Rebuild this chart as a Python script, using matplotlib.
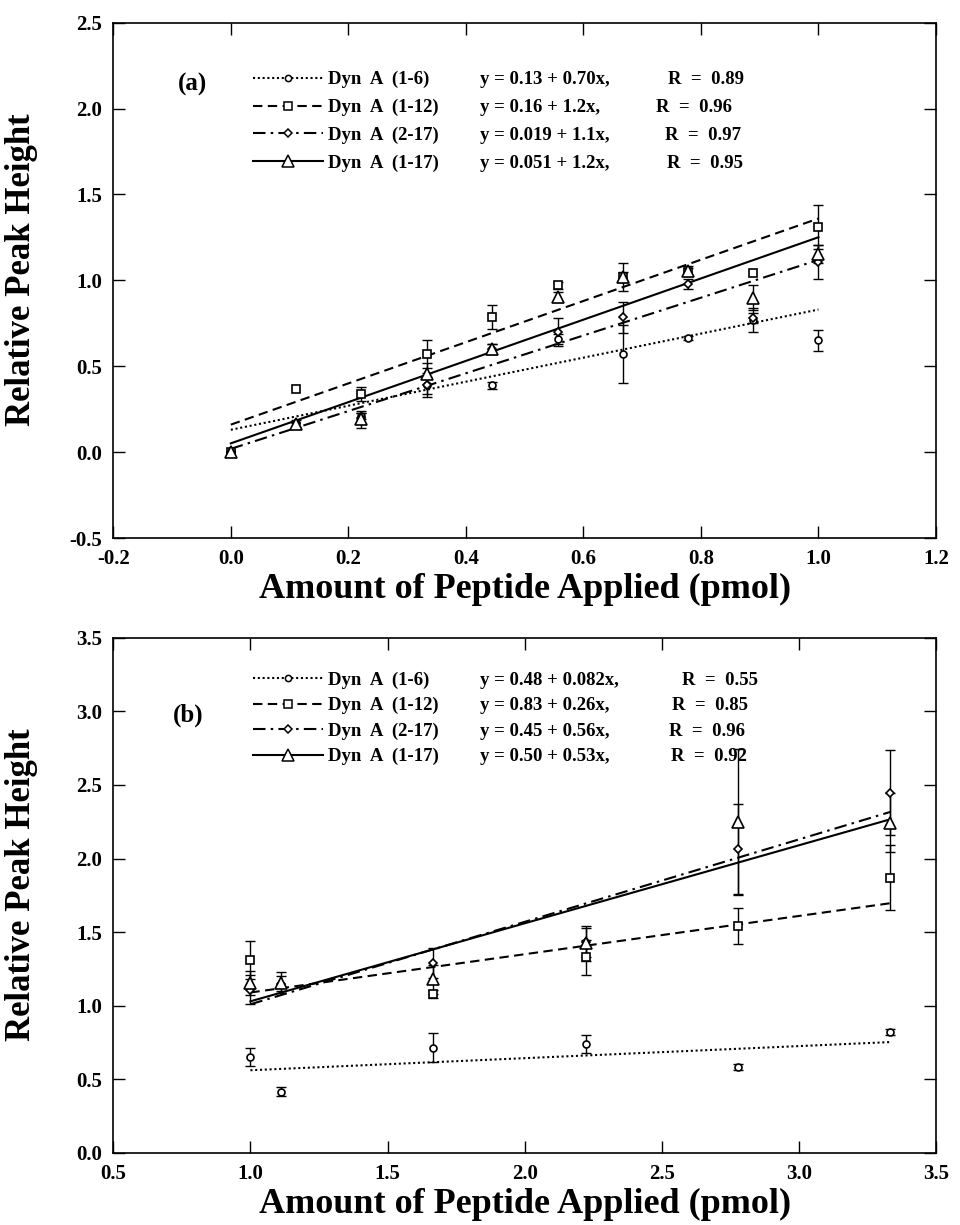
import numpy as np
import matplotlib
matplotlib.use("Agg")
import matplotlib.pyplot as plt
from matplotlib.lines import Line2D

plt.rcParams['font.family'] = ['Liberation Serif', 'DejaVu Serif']
plt.rcParams['font.weight'] = 'bold'

# ---------------- data ----------------
series_names = ["Dyn  A  (1-6)", "Dyn  A  (1-12)", "Dyn  A  (2-17)", "Dyn  A  (1-17)"]

# panel (a)
xa = [0.0, 0.111, 0.222, 0.333, 0.444, 0.556, 0.667, 0.778, 0.889, 1.0]
a_16 = [0.0, 0.17, 0.21, 0.39, 0.39, 0.66, 0.57, 0.665, 0.77, 0.65]
a_16_err = [0, 0, 0.02, 0.07, 0.02, 0.03, 0.17, 0.01, 0.07, 0.06]
a_112 = [0.0, 0.37, 0.34, 0.57, 0.785, 0.97, 1.02, 1.05, 1.04, 1.31]
a_112_err = [0, 0, 0.04, 0.08, 0.07, 0.02, 0.03, 0.02, 0, 0.13]
a_217 = [0.0, 0.17, 0.20, 0.39, 0.60, 0.70, 0.785, 0.98, 0.78, 1.105]
a_217_err = [0, 0, 0.03, 0.05, 0.03, 0.08, 0.09, 0.03, 0.03, 0.10]
a_117 = [0.0, 0.165, 0.19, 0.456, 0.60, 0.905, 1.02, 1.056, 0.90, 1.153]
a_117_err = [0, 0.02, 0.05, 0.06, 0.03, 0.03, 0.08, 0.03, 0.07, 0.05]
a_intercepts = [0.13, 0.16, 0.019, 0.051]
a_slopes = [0.70, 1.2, 1.1, 1.2]
a_eq = ["y = 0.13 + 0.70x,", "y = 0.16 + 1.2x,", "y = 0.019 + 1.1x,", "y = 0.051 + 1.2x,"]
a_R = ["R  =  0.89", "R  =  0.96", "R  =  0.97", "R  =  0.95"]
a_fit_range = [0.0, 1.0]

# panel (b)
xb = [1.0, 1.11, 1.667, 2.222, 2.778, 3.333]
b_16 = [0.654, 0.417, 0.715, 0.74, 0.586, 0.824]
b_16_err = [0.06, 0.03, 0.10, 0.06, 0.02, 0.02]
b_112 = [1.311, np.nan, 1.08, 1.33, 1.542, 1.87]
b_112_err = [0.13, 0, 0.03, 0.12, 0.12, 0.22]
b_217 = [1.11, 1.15, 1.289, 1.43, 2.063, 2.448]
b_217_err = [0.10, 0.05, 0.10, 0.10, 0.31, 0.29]
b_117 = [1.153, 1.157, 1.18, 1.425, 2.251, 2.244]
b_117_err = [0.08, 0.07, 0.10, 0.12, 0.49, 0.20]
b_intercepts = [0.48, 0.83, 0.45, 0.50]
b_slopes = [0.082, 0.26, 0.56, 0.53]
b_eq = ["y = 0.48 + 0.082x,", "y = 0.83 + 0.26x,", "y = 0.45 + 0.56x,", "y = 0.50 + 0.53x,"]
b_R = ["R  =  0.55", "R  =  0.85", "R  =  0.96", "R  =  0.92"]
b_fit_range = [1.0, 3.333]

a_xticks = [-0.2, 0.0, 0.2, 0.4, 0.6, 0.8, 1.0, 1.2]
a_yticks = [-0.5, 0.0, 0.5, 1.0, 1.5, 2.0, 2.5]
b_xticks = [0.5, 1.0, 1.5, 2.0, 2.5, 3.0, 3.5]
b_yticks = [0.0, 0.5, 1.0, 1.5, 2.0, 2.5, 3.0, 3.5]

xlabel = "Amount of Peptide Applied (pmol)"
ylabel = "Relative Peak Height"

# ---------------- styles ----------------
markers = ['o', 's', 'D', '^']
msizes = [5, 6, 4.5, 9]
dashes = [(1.0, 1.3), (4.5, 2.6), (6, 2.5, 1.2, 2.5), None]
LW = 1.5
LEG_FS = 13.5

fig = plt.figure(figsize=(9.6, 12.25), dpi=100)
ax_a = fig.add_axes([0.118, 0.5608, 0.857, 0.4207])
ax_b = fig.add_axes([0.118, 0.0588, 0.857, 0.4206])


def draw_panel(ax, x, ys, errs, inter, slope, frange, xlim, ylim, xticks, yticks,
               tag, leg_anchor, labelspacing, tag_pos):
    x = np.asarray(x, float)
    fx = np.array(frange)
    for i in range(4):
        y = np.asarray(ys[i], float)
        e = np.asarray(errs[i], float)
        ln, = ax.plot(fx, inter[i] + slope[i] * fx, color='k', lw=LW, zorder=2)
        if dashes[i] is not None:
            ln.set_dashes(dashes[i])
        m = (e > 0) & np.isfinite(y)
        if m.any():
            ax.errorbar(x[m], y[m], yerr=e[m], fmt='none', ecolor='k',
                        elinewidth=1.0, capsize=3.5, capthick=1.0, zorder=3)
        ax.plot(x, y, linestyle='none', marker=markers[i], ms=msizes[i],
                mfc='white', mec='k', mew=1.2, zorder=4 + i * 0.1)
    ax.set_xlim(*xlim)
    ax.set_ylim(*ylim)
    ax.set_xticks(xticks)
    ax.set_yticks(yticks)
    ax.set_xticklabels([f"{t:.1f}" for t in xticks])
    ax.set_yticklabels([f"{t:.1f}" for t in yticks])
    ax.tick_params(direction='in', top=True, right=True, length=8.5, width=1.0,
                   labelsize=15, pad=8)
    for lab in ax.get_xticklabels() + ax.get_yticklabels():
        lab.set_fontweight('bold')
    for s in ax.spines.values():
        s.set_linewidth(1.2)
    ax.set_xlabel(xlabel, fontsize=26, fontweight='bold', labelpad=3)
    ax.set_ylabel(ylabel, fontsize=25, fontweight='bold')
    ax.yaxis.set_label_coords(-0.092, 0.52)

    handles = []
    for i in range(4):
        h = Line2D([0], [0], color='k', lw=LW, marker=markers[i], ms=msizes[i] * 0.9,
                   mfc='white', mec='k', mew=1.1)
        if dashes[i] is not None:
            h.set_dashes(dashes[i])
        handles.append(h)
    leg = ax.legend(handles, series_names, loc='upper left', bbox_to_anchor=leg_anchor,
                    frameon=False, fontsize=LEG_FS, handlelength=3.7, handletextpad=0.3,
                    labelspacing=labelspacing, borderpad=0, borderaxespad=0, numpoints=1)
    for t in leg.get_texts():
        t.set_fontweight('bold')
    ax.text(tag_pos[0], tag_pos[1], tag, transform=ax.transAxes, fontsize=18,
            fontweight='bold', ha='left', va='center')
    return leg


leg_a = draw_panel(ax_a, xa, [a_16, a_112, a_217, a_117],
                   [a_16_err, a_112_err, a_217_err, a_117_err],
                   a_intercepts, a_slopes, a_fit_range, (-0.2, 1.2), (-0.5, 2.5),
                   a_xticks, a_yticks, "(a)", (0.170, 0.906), 0.56, (0.078, 0.881))
leg_b = draw_panel(ax_b, xb, [b_16, b_112, b_217, b_117],
                   [b_16_err, b_112_err, b_217_err, b_117_err],
                   b_intercepts, b_slopes, b_fit_range, (0.5, 3.5), (0.0, 3.5),
                   b_xticks, b_yticks, "(b)", (0.170, 0.934), 0.43, (0.073, 0.85))

fig.canvas.draw()
H = fig.bbox.height
W = fig.bbox.width
for leg, eqs, Rs, Rx in [(leg_a, a_eq, a_R, [668, 656, 665, 667]),
                         (leg_b, b_eq, b_R, [682, 672, 669, 671])]:
    for t, eq, r, rx in zip(leg.get_texts(), eqs, Rs, Rx):
        bb = t.get_window_extent()
        yc = (bb.y0 + bb.y1) / 2 / H
        fig.text(480 / W, yc, eq, fontsize=LEG_FS, fontweight='bold', ha='left', va='center')
        fig.text(rx / W, yc, r, fontsize=LEG_FS, fontweight='bold', ha='left', va='center')

fig.savefig("out.png", dpi=100)
